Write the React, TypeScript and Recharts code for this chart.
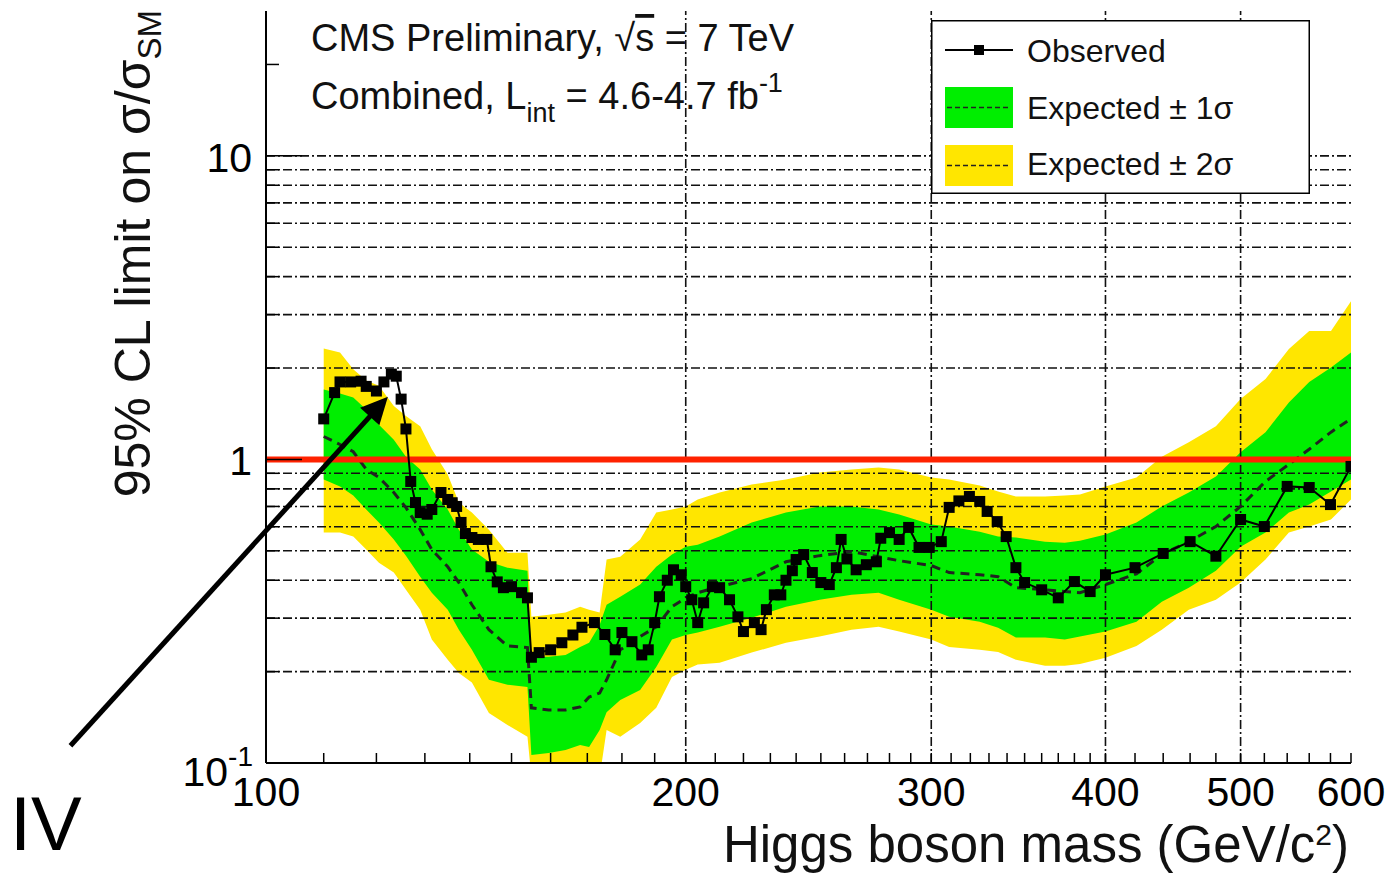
import React from 'react';
import { ComposedChart, Area, Line, XAxis, YAxis, ReferenceLine, Legend } from 'recharts';

const FONT = '"Liberation Sans", Arial, Helvetica, sans-serif';
const W = 1394;
const H = 875;

// observed 95% CL limit
const obsMass = [
  110, 112, 113, 115, 117, 118, 120, 121.5, 123, 124,
  125, 126, 127, 128, 129, 130.5, 131.5, 133.5, 135, 136,
  137, 138, 139, 140.5, 142, 144, 145, 146.5, 148, 150,
  152.5, 154, 155, 157, 160, 163, 166, 168.5, 172, 175,
  178, 180, 183, 186, 188, 190, 191.5, 194, 196, 198.5,
  200, 202, 204, 206, 209, 211.5, 215, 218, 220, 224,
  226.5, 228.5, 231.5, 234, 236, 238.5, 240, 243, 246.5, 250,
  253.5, 256.5, 258.5, 261, 265, 269.5, 274, 276, 280, 284.5,
  289, 294, 299, 305, 309, 314, 319.5, 325, 329, 334.5,
  339.5, 345, 350, 360, 370, 380, 390, 400, 420, 440,
  460, 480, 500, 520, 540, 560, 580, 600,
];
const obsLimit = [
  1.36, 1.66, 1.8, 1.8, 1.81, 1.74, 1.68, 1.8, 1.91, 1.88,
  1.58, 1.26, 0.846, 0.721, 0.668, 0.66, 0.684, 0.778, 0.738, 0.72,
  0.7, 0.62, 0.57, 0.553, 0.545, 0.545, 0.443, 0.395, 0.378, 0.381,
  0.364, 0.35, 0.223, 0.231, 0.236, 0.249, 0.264, 0.28, 0.29, 0.265,
  0.236, 0.269, 0.251, 0.227, 0.236, 0.29, 0.353, 0.4, 0.433, 0.417,
  0.381, 0.345, 0.29, 0.337, 0.381, 0.378, 0.345, 0.303, 0.271, 0.29,
  0.275, 0.32, 0.358, 0.358, 0.4, 0.43, 0.468, 0.486, 0.424, 0.393,
  0.387, 0.44, 0.545, 0.47, 0.433, 0.45, 0.46, 0.55, 0.574, 0.545,
  0.597, 0.513, 0.513, 0.536, 0.695, 0.73, 0.755, 0.727, 0.674, 0.624,
  0.557, 0.44, 0.393, 0.372, 0.35, 0.396, 0.367, 0.417, 0.44, 0.49,
  0.536, 0.48, 0.634, 0.601, 0.815, 0.808, 0.71, 0.948,
];

// expected median and the 1 and 2 sigma bands
const expMass = [
  110, 113, 115.5, 118, 120.5, 123.5, 126, 129, 131.5, 135,
  137.5, 140.5, 144.5, 149, 154, 155, 159.5, 164, 168, 170.5,
  173.5, 175.5, 179.5, 185.5, 190.5, 195.5, 200, 204, 211.5, 223,
  236, 249.5, 263, 275, 284.5, 300, 309, 325, 335, 345,
  362, 374, 383.5, 400, 421, 439, 459, 480, 500, 521,
  541.5, 560, 580.5, 600,
];
const expMedian = [
  1.19, 1.12, 1.06, 0.927, 0.872, 0.778, 0.694, 0.587, 0.505, 0.443,
  0.393, 0.332, 0.275, 0.243, 0.24, 0.152, 0.1496, 0.1496, 0.153, 0.165,
  0.17, 0.188, 0.236, 0.261, 0.281, 0.327, 0.35, 0.364, 0.381, 0.405,
  0.46, 0.482, 0.497, 0.478, 0.464, 0.447, 0.424, 0.417, 0.411, 0.378,
  0.372, 0.367, 0.364, 0.387, 0.42, 0.486, 0.536, 0.601, 0.7, 0.846,
  0.963, 1.08, 1.23, 1.36,
];
const exp1Lo = [
  0.859, 0.815, 0.761, 0.684, 0.62, 0.545, 0.482, 0.411, 0.364, 0.32,
  0.275, 0.236, 0.188, 0.181, 0.178, 0.1063, 0.1079, 0.1104, 0.1147, 0.113,
  0.1285, 0.147, 0.1614, 0.174, 0.207, 0.255, 0.264, 0.269, 0.281, 0.301,
  0.327, 0.345, 0.358, 0.364, 0.345, 0.32, 0.303, 0.292, 0.279, 0.259,
  0.259, 0.255, 0.261, 0.271, 0.292, 0.34, 0.378, 0.43, 0.516, 0.574,
  0.668, 0.71, 0.784, 0.859,
];
const exp1Hi = [
  1.7, 1.65, 1.6, 1.46, 1.3, 1.16, 1.02, 0.927, 0.796, 0.684,
  0.587, 0.505, 0.46, 0.44, 0.43, 0.224, 0.224, 0.227, 0.241, 0.249,
  0.285, 0.332, 0.353, 0.387, 0.443, 0.486, 0.516, 0.524, 0.557, 0.62,
  0.668, 0.7, 0.7, 0.684, 0.658, 0.61, 0.601, 0.578, 0.557, 0.553,
  0.536, 0.532, 0.54, 0.566, 0.62, 0.7, 0.778, 0.879, 1.055, 1.23,
  1.54, 1.8, 2.01, 2.25,
];
const exp2Lo = [
  0.574, 0.574, 0.557, 0.505, 0.457, 0.424, 0.372, 0.32, 0.255, 0.219,
  0.198, 0.184, 0.146, 0.1335, 0.122, 0.09, 0.09, 0.09, 0.09, 0.09,
  0.09, 0.1285, 0.122, 0.1355, 0.152, 0.192, 0.203, 0.211, 0.214, 0.231,
  0.249, 0.261, 0.275, 0.281, 0.271, 0.255, 0.241, 0.236, 0.232, 0.219,
  0.209, 0.209, 0.212, 0.222, 0.243, 0.275, 0.32, 0.345, 0.393, 0.468,
  0.574, 0.601, 0.634, 0.738,
];
const exp2Hi = [
  2.32, 2.25, 1.98, 1.82, 1.75, 1.5, 1.39, 1.285, 1.08, 0.892,
  0.721, 0.668, 0.587, 0.493, 0.493, 0.303, 0.308, 0.313, 0.327, 0.32,
  0.313, 0.468, 0.478, 0.545, 0.668, 0.684, 0.7, 0.738, 0.778, 0.827,
  0.859, 0.906, 0.927, 0.941, 0.927, 0.872, 0.859, 0.821, 0.784, 0.755,
  0.755, 0.761, 0.766, 0.815, 0.872, 1.02, 1.14, 1.285, 1.58, 1.84,
  2.31, 2.65, 2.65, 3.32,
];

// axes
const xMajor = [100, 200, 300, 400, 500, 600];
const xMinor = [
  110, 120, 130, 140, 150, 160, 170, 180, 190,
  210, 220, 230, 240, 250, 260, 270, 280, 290,
  310, 320, 330, 340, 350, 360, 370, 380, 390,
  420, 440, 460, 480, 520, 540, 560, 580,
];
const yMajor = [0.1, 1, 10];
const yMinor = [0.2, 0.3, 0.4, 0.5, 0.6, 0.7, 0.8, 0.9, 2, 3, 4, 5, 6, 7, 8, 9, 20];
const yGrid = [0.2, 0.3, 0.4, 0.5, 0.6, 0.7, 0.8, 0.9, 2, 3, 4, 5, 6, 7, 8, 9, 10];
const xGrid = [200, 300, 400, 500];

// arrow annotation (data units)
const arrowFrom = { x: 72.4, y: 0.114 };
const arrowTo = { x: 122.3, y: 1.61 };

const xTicks = xMajor.concat(xMinor);
const yTicks = yMajor.concat(yMinor);

const bandData = expMass.map((mass, i) => ({
  mass,
  exp: expMedian[i],
  band1: [exp1Lo[i], exp1Hi[i]],
  band2: [exp2Lo[i], exp2Hi[i]],
}));
const obsData = obsMass.map((mass, i) => ({ mass, obs: obsLimit[i] }));

const GREEN = '#00ee00';
const YELLOW = '#ffe600';
const GRID_DASH = '9 3 2 3';

const BottomTick = (p: any) => {
  const { x, y, payload } = p;
  const v = payload.value;
  return (
    <g>
      <line x1={x} x2={x} y1={y} y2={y - 10} stroke="#000" strokeWidth={1.5} />
      {xMajor.includes(v) && (
        <text x={x} y={y + 43} textAnchor="middle" fontFamily={FONT} fontSize={41} fill="#000">
          {v}
        </text>
      )}
    </g>
  );
};

const TopTick = (p: any) => {
  const { x, y } = p;
  return <line x1={x} x2={x} y1={y} y2={y + 10} stroke="#000" strokeWidth={1.5} />;
};

const LeftTick = (p: any) => {
  const { x, y, payload } = p;
  const v = payload.value;
  const major = yMajor.includes(v);
  return (
    <g>
      <line x1={x} x2={x + (major ? 36 : 13)} y1={y} y2={y} stroke="#000" strokeWidth={1.5} />
      {v === 0.1 && (
        <text x={x - 13} y={y + 23} textAnchor="end" fontFamily={FONT} fontSize={41} fill="#000">
          10<tspan dy={-20} fontSize={28}>-1</tspan>
        </text>
      )}
      {(v === 1 || v === 10) && (
        <text x={x - 14} y={y + 16} textAnchor="end" fontFamily={FONT} fontSize={41} fill="#000">
          {v}
        </text>
      )}
    </g>
  );
};

const RightTick = (p: any) => {
  const { x, y, payload } = p;
  const major = yMajor.includes(payload.value);
  return <line x1={x} x2={x - (major ? 36 : 13)} y1={y} y2={y} stroke="#000" strokeWidth={1.5} />;
};

const SquareDot = (p: any) => {
  const { cx, cy } = p;
  if (cx == null || cy == null) return null;
  return <rect x={cx - 5.5} y={cy - 5.5} width={11} height={11} fill="#000" />;
};

const ArrowShape = (p: any) => {
  const { x1, y1, x2, y2 } = p;
  if (x1 == null) return null;
  const dx = x2 - x1;
  const dy = y2 - y1;
  const len = Math.hypot(dx, dy);
  const ux = dx / len;
  const uy = dy / len;
  const bx = x2 - ux * 27;
  const by = y2 - uy * 27;
  const pts = `${x2},${y2} ${bx + uy * 13},${by - ux * 13} ${bx - uy * 13},${by + ux * 13}`;
  return (
    <g>
      <line x1={x1} y1={y1} x2={bx + ux * 2} y2={by + uy * 2} stroke="#000" strokeWidth={5} />
      <polygon points={pts} fill="#000" />
    </g>
  );
};

const LegendBox = () => (
  <svg width={379} height={174} style={{ display: 'block' }}>
    <rect x={0.75} y={0.75} width={377.5} height={172.5} fill="#fff" stroke="#000" strokeWidth={1.5} />
    <line x1={14} x2={82} y1={30} y2={30} stroke="#000" strokeWidth={1.8} />
    <rect x={43} y={25} width={10} height={10} fill="#000" />
    <text x={96} y={41.5} fontFamily={FONT} fontSize={32} fill="#111">Observed</text>
    <rect x={14} y={67} width={68} height={41} fill={GREEN} />
    <line x1={16} x2={80} y1={87.5} y2={87.5} stroke="#222" strokeWidth={1.5} strokeDasharray="5 3" />
    <text x={96} y={98.5} fontFamily={FONT} fontSize={32} fill="#111">Expected ± 1σ</text>
    <rect x={14} y={125} width={68} height={41} fill={YELLOW} />
    <line x1={16} x2={80} y1={145.5} y2={145.5} stroke="#222" strokeWidth={1.5} strokeDasharray="5 3" />
    <text x={96} y={155} fontFamily={FONT} fontSize={32} fill="#111">Expected ± 2σ</text>
  </svg>
);

export default function App() {
  return (
    <div style={{ position: 'absolute', left: 0, top: 0, width: W, height: H, background: '#fff' }}>
      <ComposedChart width={W} height={H} data={bandData} margin={{ top: 11, right: 43, bottom: 0, left: 0 }}>
        <XAxis
          xAxisId="b"
          dataKey="mass"
          type="number"
          scale="log"
          domain={[100, 600]}
          allowDataOverflow
          ticks={xTicks}
          interval={0}
          height={112}
          tickSize={0}
          tickMargin={0}
          tickLine={false}
          tick={BottomTick}
          axisLine={{ stroke: '#000', strokeWidth: 2 }}
        />
        <XAxis
          xAxisId="t"
          orientation="top"
          dataKey="mass"
          type="number"
          scale="log"
          domain={[100, 600]}
          allowDataOverflow
          ticks={xTicks}
          interval={0}
          height={0}
          tickSize={0}
          tickMargin={0}
          tickLine={false}
          tick={TopTick}
          axisLine={{ stroke: '#000', strokeWidth: 2 }}
        />
        <YAxis
          yAxisId="l"
          type="number"
          scale="log"
          domain={[0.1, 30]}
          allowDataOverflow
          ticks={yTicks}
          interval={0}
          width={266}
          tickSize={0}
          tickMargin={0}
          tickLine={false}
          tick={LeftTick}
          axisLine={{ stroke: '#000', strokeWidth: 2 }}
        />
        <YAxis
          yAxisId="r"
          orientation="right"
          type="number"
          scale="log"
          domain={[0.1, 30]}
          allowDataOverflow
          ticks={yTicks}
          interval={0}
          width={0}
          tickSize={0}
          tickMargin={0}
          tickLine={false}
          tick={RightTick}
          axisLine={{ stroke: '#000', strokeWidth: 2 }}
        />

        <Area xAxisId="b" yAxisId="l" dataKey="band2" type="linear" fill={YELLOW} fillOpacity={1} stroke="none" isAnimationActive={false} />
        <Area xAxisId="b" yAxisId="l" dataKey="band1" type="linear" fill={GREEN} fillOpacity={1} stroke="none" isAnimationActive={false} />

        {yGrid.map((v) => (
          <ReferenceLine key={'h' + v} xAxisId="b" yAxisId="l" y={v} stroke="#111" strokeWidth={1.6} strokeDasharray={GRID_DASH} />
        ))}
        {xGrid.map((v) => (
          <ReferenceLine key={'v' + v} xAxisId="b" yAxisId="l" x={v} stroke="#111" strokeWidth={1.6} strokeDasharray={GRID_DASH} />
        ))}

        <Line xAxisId="b" yAxisId="l" dataKey="exp" type="linear" stroke="#222" strokeWidth={3} strokeDasharray="9 6" dot={false} isAnimationActive={false} />
        <ReferenceLine xAxisId="b" yAxisId="l" y={1} stroke="#ff2200" strokeWidth={6} />
        <Line
          xAxisId="b"
          yAxisId="l"
          data={obsData}
          dataKey="obs"
          type="linear"
          stroke="#000"
          strokeWidth={2}
          dot={(p: any) => <SquareDot key={p.index} {...p} />}
          isAnimationActive={false}
        />
        <ReferenceLine xAxisId="b" yAxisId="l" segment={[arrowFrom, arrowTo]} ifOverflow="visible" shape={ArrowShape} />

        <Legend
          layout="horizontal"
          verticalAlign="middle"
          align="center"
          wrapperStyle={{ left: 931, top: 20, width: 379, height: 174 }}
          content={() => <LegendBox />}
        />
      </ComposedChart>

      <svg
        width={W}
        height={H}
        style={{ position: 'absolute', left: 0, top: 0, pointerEvents: 'none' }}
      >
        <text x={311} y={51} fontFamily={FONT} fontSize={38} fill="#111">
          CMS Preliminary, √<tspan textDecoration="overline">s</tspan> = 7 TeV
        </text>
        <text x={311} y={109} fontFamily={FONT} fontSize={38} fill="#111">
          Combined, L<tspan dy={13} fontSize={27}>int</tspan>
          <tspan dy={-13}> = 4.6-4.7 fb</tspan>
          <tspan dy={-17} fontSize={27}>-1</tspan>
        </text>
        <text transform="rotate(-90)" x={-10} y={150} textAnchor="end" fontFamily={FONT} fontSize={50} fill="#111">
          95% CL limit on σ/σ<tspan dy={11} fontSize={33}>SM</tspan>
        </text>
        <text x={1349} y={862} textAnchor="end" fontFamily={FONT} fontSize={51} fill="#111">
          Higgs boson mass (GeV/c<tspan dy={-17} fontSize={30}>2</tspan>
          <tspan dy={17}>)</tspan>
        </text>
        <text x={10} y={850} fontFamily={FONT} fontSize={76} fill="#000">IV</text>
      </svg>
    </div>
  );
}
